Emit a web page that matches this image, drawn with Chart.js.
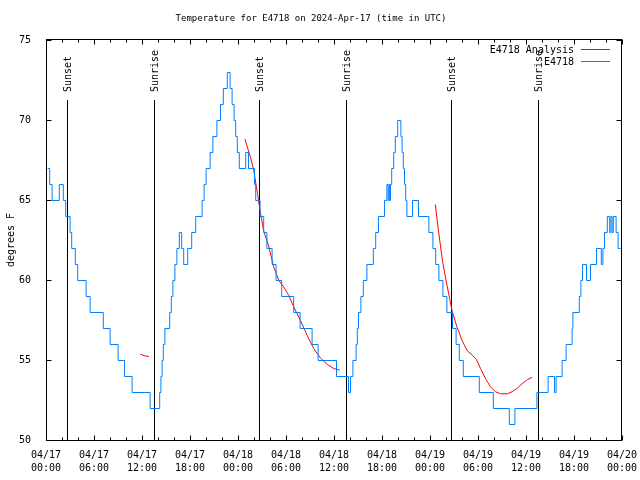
<!DOCTYPE html>
<html>
<head>
<meta charset="utf-8">
<script src="https://cdn.jsdelivr.net/npm/chart.js@4.4.1/dist/chart.umd.min.js"></script>
<style>
body { margin: 0; background: #fff; }
canvas { display: block; }
</style>
</head>
<body>
<canvas id="myChart" width="640" height="480"></canvas>
<script>
// hours after 2024-04-17 00:00 UTC where the reading changes, and the new reading (deg F)
var tempHours = [0.15, 0.4, 0.7, 1.6, 2.1, 2.4, 2.95, 3.15, 3.6, 3.9, 4.95, 5.45, 7.1, 7.95, 8.95, 9.75, 10.7, 12.95,
    14.15, 14.3, 14.45, 14.6, 14.8, 15.4, 15.6, 15.8, 16.05, 16.3, 16.6, 16.9, 17.15, 17.65, 18.15, 18.65, 19.45, 19.7,
    19.95, 20.45, 20.8, 21.3, 21.75, 22.1, 22.6, 22.95, 23.2, 23.45, 23.65, 23.85, 24.1, 24.9, 25.25, 26.0, 26.15, 26.7,
    27.15, 27.55, 28.2, 28.7, 29.4, 30.9, 31.7, 33.2, 33.95, 36.25, 37.75, 38.0, 38.3, 38.7, 38.85, 39.0, 39.3, 39.6,
    40.05, 40.85, 41.15, 41.5, 42.25, 42.55, 42.7, 42.8, 42.9, 43.0, 43.15, 43.4, 43.6, 43.9, 44.3, 44.45, 44.6, 44.75,
    44.9, 45.05, 45.75, 46.5, 47.8, 48.3, 48.65, 49.05, 49.55, 50.05, 50.75, 51.2, 51.6, 52.1, 54.1, 55.85, 57.85, 58.55,
    61.3, 62.7, 63.5, 63.7, 64.45, 64.95, 65.7, 65.8, 66.6, 66.8, 67.0, 67.5, 68.0, 68.75, 69.35, 69.55, 69.75, 70.1,
    70.4, 70.55, 70.7, 70.85, 71.2, 71.45, 71.75];
var tempValues = [67, 66, 65, 66, 65, 64, 63, 62, 61, 60, 59, 58, 57, 56, 55, 54, 53, 52,
    53, 54, 55, 56, 57, 58, 59, 60, 61, 62, 63, 62, 61, 62, 63, 64, 65, 66,
    67, 68, 69, 70, 71, 72, 73, 72, 71, 70, 69, 68, 67, 68, 67, 66, 65, 64,
    63, 62, 61, 60, 59, 58, 57, 56, 55, 54, 53, 54, 55, 56, 57, 58, 59, 60,
    61, 62, 63, 64, 65, 66, 65, 66, 65, 66, 67, 68, 69, 70, 69, 68, 67, 66,
    65, 64, 65, 64, 63, 62, 61, 60, 59, 58, 57, 56, 55, 54, 53, 52, 51, 52,
    53, 54, 53, 54, 55, 56, 57, 58, 59, 60, 61, 60, 61, 62, 61, 62, 63, 64,
    63, 64, 63, 64, 63, 62, 62];

// analysis curve, null = gap between runs
var analysisHours = [11.75, 12.2, 12.8, 18,
    24.8, 25.5, 25.9, 26.35, 26.75, 27.15, 27.8, 28.4, 29.05, 29.65, 30.3, 30.9, 31.75, 32.6, 33.4, 34.25, 35.1, 35.9, 36.65, 42,
    48.6, 49.0, 49.5, 50.1, 50.7, 51.3, 51.95, 52.6, 53.2, 53.75, 54.25, 54.9, 55.5, 56.1, 56.75, 57.6, 58.2, 58.8, 59.45, 60.1, 60.7];
var analysisValues = [55.4, 55.3, 55.25, null,
    68.85, 67.7, 66.9, 65.5, 64.2, 63.1, 62.1, 60.85, 60.0, 59.6, 59.05, 58.35, 57.5, 56.55, 55.75, 55.15, 54.75, 54.5, 54.4, null,
    64.75, 63.1, 61.2, 59.6, 58.1, 57.1, 56.25, 55.6, 55.35, 55.05, 54.5, 53.85, 53.35, 53.05, 52.92, 52.92, 53.05, 53.25, 53.55, 53.8, 53.95];

var sunHours = [2.65, 13.55, 26.65, 37.55, 50.65, 61.45];
var sunLabels = ['Sunset', 'Sunrise', 'Sunset', 'Sunrise', 'Sunset', 'Sunrise'];

var dayLabels = ['04/17', '04/18', '04/19', '04/20'];
var hourLabels = ['00:00', '06:00', '12:00', '18:00'];

var RED = '#ff0000';
var BLUE = '#0080ff';
var FONT = "'DejaVu Sans Mono', monospace";
Chart.defaults.font.family = FONT;
Chart.defaults.font.size = 10;
Chart.defaults.color = '#000';

function points(xs, ys) {
    var out = [];
    for (var i = 0; i < xs.length; i++) out.push({x: xs[i], y: ys[i]});
    return out;
}

// gnuplot-ish frame, inward ticks, sun markers and key
var gnuplotLook = {
    id: 'gnuplotLook',
    beforeDatasetsDraw: function(chart) {
        var ctx = chart.ctx, a = chart.chartArea, xs = chart.scales.x;
        ctx.save();
        ctx.strokeStyle = '#000';
        ctx.fillStyle = '#000';
        ctx.lineWidth = 1;
        ctx.font = '10px ' + FONT;
        for (var i = 0; i < sunHours.length; i++) {
            var px = Math.round(xs.getPixelForValue(sunHours[i])) + 0.5;
            ctx.beginPath();
            ctx.moveTo(px, a.bottom);
            ctx.lineTo(px, a.top + 60);
            ctx.stroke();
            ctx.save();
            ctx.translate(px + 1, a.top + 52);
            ctx.rotate(-Math.PI / 2);
            ctx.textAlign = 'left';
            ctx.textBaseline = 'middle';
            ctx.fillText(sunLabels[i], 0, 0);
            ctx.restore();
        }
        ctx.restore();
        ctx.save();
        ctx.translate(0.5, 0.5); // crisp 1px data lines
    },
    afterDatasetsDraw: function(chart) {
        var ctx = chart.ctx, a = chart.chartArea, xs = chart.scales.x, ys = chart.scales.y;
        ctx.restore();
        ctx.save();
        ctx.strokeStyle = '#000';
        ctx.lineWidth = 1;
        var L = a.left + 0.5, R = a.right - 0.5, T = a.top - 0.5, B = a.bottom + 0.5;
        ctx.strokeRect(L, T, R - L, B - T);
        ctx.beginPath();
        for (var h = xs.min; h <= xs.max; h += 2) {
            var len = (h % 6 === 0) ? 5 : 3;
            var px = Math.round(xs.getPixelForValue(h)) + 0.5;
            ctx.moveTo(px, B); ctx.lineTo(px, B - len);
            ctx.moveTo(px, T); ctx.lineTo(px, T + len);
        }
        ys.ticks.forEach(function(t) {
            var py = Math.round(ys.getPixelForValue(t.value)) + 0.5;
            ctx.moveTo(L, py); ctx.lineTo(L + 5, py);
            ctx.moveTo(R, py); ctx.lineTo(R - 5, py);
        });
        ctx.stroke();
        ctx.restore();
    },
    afterDraw: function(chart) {
        var ctx = chart.ctx, a = chart.chartArea;
        ctx.save();
        ctx.font = '10px ' + FONT;
        ctx.textAlign = 'right';
        ctx.textBaseline = 'middle';
        var keyColors = [RED, BLUE];
        chart.data.datasets.forEach(function(ds, i) {
            var y = a.top + 10 + i * 12;
            ctx.fillStyle = '#000';
            ctx.fillText(ds.label, a.right - 48, y);
            ctx.fillStyle = keyColors[i];
            ctx.fillRect(a.right - 41, y - 1, 29, 1);
        });
        ctx.restore();
    }
};

var config = {
    type: 'line',
    data: {
        datasets: [{
            label: 'E4718 Analysis',
            data: points(analysisHours, analysisValues),
            borderColor: RED,
            borderWidth: 1,
            pointRadius: 0,
            spanGaps: false,
            order: 1
        }, {
            label: 'E4718',
            data: points(tempHours, tempValues),
            borderColor: BLUE,
            borderWidth: 1,
            pointRadius: 0,
            stepped: true,
            order: 0
        }]
    },
    options: {
        responsive: false,
        animation: false,
        devicePixelRatio: 1,
        layout: {
            padding: {left: 0, right: 18, top: 0, bottom: 0}
        },
        plugins: {
            legend: {display: false},
            tooltip: {enabled: false},
            title: {
                display: true,
                text: 'Temperature for E4718 on 2024-Apr-17 (time in UTC)',
                font: {size: 9, weight: 'normal', lineHeight: '12px'},
                color: '#000',
                padding: {top: 13, bottom: 15}
            }
        },
        scales: {
            x: {
                type: 'linear',
                min: 0,
                max: 72,
                grid: {display: false},
                border: {display: false},
                ticks: {
                    stepSize: 6,
                    autoSkip: false,
                    maxRotation: 0,
                    padding: 1,
                    font: {size: 10, lineHeight: '13px'},
                    callback: function(v) {
                        var d = Math.floor(v / 24);
                        return [dayLabels[d], hourLabels[(v % 24) / 6]];
                    }
                },
                afterFit: function(scale) {
                    scale.height = 40;
                    scale.paddingLeft = 0;
                    scale.paddingRight = 0;
                }
            },
            y: {
                min: 50,
                max: 75,
                grid: {display: false},
                border: {display: false},
                ticks: {stepSize: 5, padding: 7},
                title: {
                    display: true,
                    text: 'degrees F',
                    padding: {top: 5, bottom: 0}
                },
                afterFit: function(scale) { scale.width = 46; }
            }
        }
    },
    plugins: [gnuplotLook]
};

var ctx = document.getElementById('myChart').getContext('2d');
var chart = new Chart(ctx, config);
</script>
</body>
</html>
